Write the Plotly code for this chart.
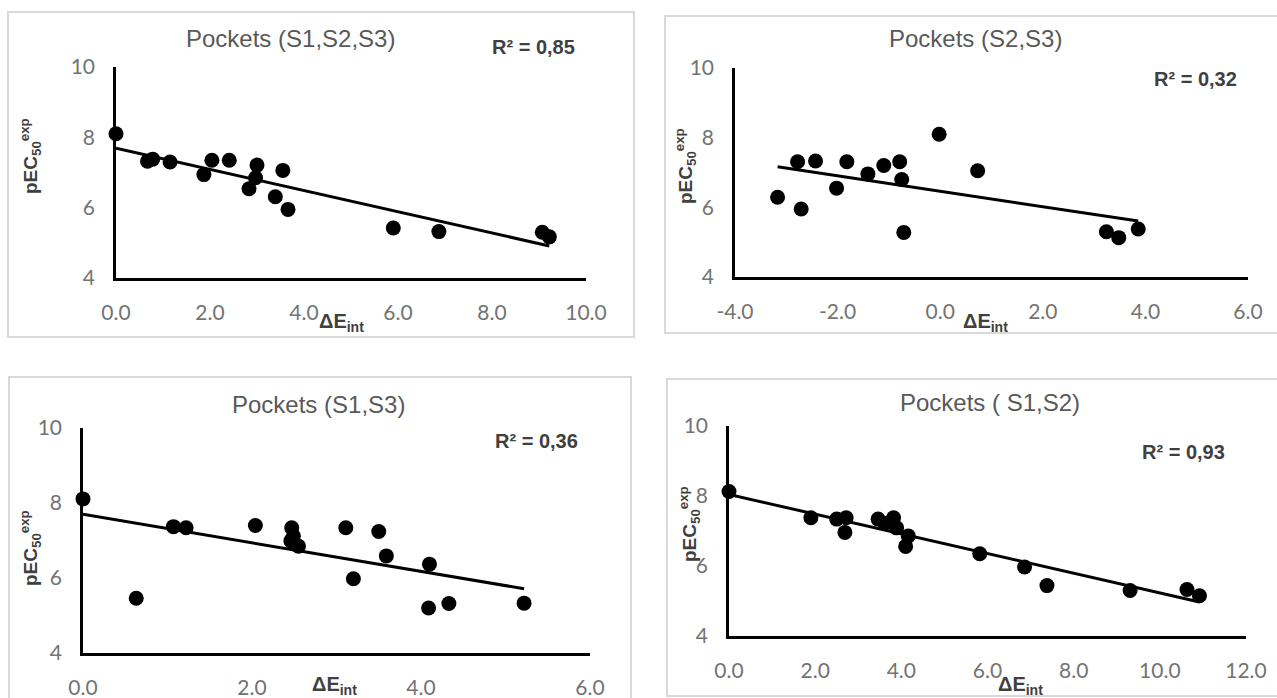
import numpy as np
import plotly.graph_objects as go

W, H = 1277, 698

# ---------------- data ----------------
titles = ["Pockets (S1,S2,S3)", "Pockets (S2,S3)", "Pockets (S1,S3)", "Pockets ( S1,S2)"]
r2_labels = ["R² = 0,85", "R² = 0,32", "R² = 0,36", "R² = 0,93"]
y_title = "pEC<sub>50</sub><sup>exp</sup>"
x_title = "ΔE<sub>int</sub>"

x_s123 = [0.00, 0.67, 0.78, 1.15, 1.87, 2.04, 2.41, 3.00, 2.97, 2.83, 3.55, 3.39, 3.66, 5.90, 6.87, 9.07, 9.22]
y_s123 = [8.10, 7.32, 7.38, 7.30, 6.94, 7.35, 7.35, 7.21, 6.85, 6.54, 7.06, 6.31, 5.95, 5.42, 5.32, 5.30, 5.17]

x_s23 = [-3.17, -2.78, -2.71, -2.43, -2.02, -1.82, -1.41, -1.10, -0.79, -0.75, -0.71, -0.02, 0.73, 3.24, 3.48, 3.86]
y_s23 = [6.29, 7.31, 5.95, 7.33, 6.55, 7.31, 6.96, 7.20, 7.31, 6.80, 5.28, 8.10, 7.05, 5.30, 5.13, 5.38]

x_s13 = [0.00, 0.63, 1.07, 1.22, 2.04, 2.47, 2.49, 2.46, 2.55, 3.11, 3.20, 3.50, 3.59, 4.10, 4.09, 4.33, 5.22]
y_s13 = [8.11, 5.46, 7.37, 7.34, 7.40, 7.34, 7.12, 6.99, 6.85, 7.34, 5.98, 7.24, 6.59, 6.37, 5.20, 5.32, 5.33]

x_s12 = [0.00, 1.90, 2.50, 2.72, 2.69, 3.46, 3.61, 3.82, 3.89, 4.16, 4.10, 5.82, 6.86, 7.38, 9.31, 10.63, 10.92]
y_s12 = [8.13, 7.38, 7.34, 7.38, 6.96, 7.34, 7.22, 7.38, 7.09, 6.86, 6.56, 6.35, 5.97, 5.44, 5.30, 5.33, 5.15]

x_tick_s123 = [0, 2, 4, 6, 8, 10]
x_tick_s23 = [-4, -2, 0, 2, 4, 6]
x_tick_s13 = [0, 2, 4, 6]
x_tick_s12 = [0, 2, 4, 6, 8, 10, 12]
y_ticks = [4, 6, 8, 10]

# ---------------- layout geometry (pixels) ----------------
def px(x):
    return x / W

def py(y):
    return 1 - y / H

panels = [
    dict(x=x_s123, y=y_s123, xt=x_tick_s123, dom_x=(116, 586), dom_y=(278, 67),
         title=(290, 38), r2=(533, 47), ytitle=(30, 156), xtitle=(341, 322),
         border=(8, 12, 634, 337)),
    dict(x=x_s23, y=y_s23, xt=x_tick_s23, dom_x=(735, 1248), dom_y=(277, 68),
         title=(975, 38), r2=(1195, 79), ytitle=(686, 166), xtitle=(985, 322),
         border=(665, 16, 1290, 333)),
    dict(x=x_s13, y=y_s13, xt=x_tick_s13, dom_x=(83, 590), dom_y=(653, 428),
         title=(318, 405), r2=(536, 441), ytitle=(30, 548), xtitle=(334, 685),
         border=(9, 377, 631, 710)),
    dict(x=x_s12, y=y_s12, xt=x_tick_s12, dom_x=(729, 1246), dom_y=(636, 426),
         title=(990, 402), r2=(1183, 452), ytitle=(689, 524), xtitle=(1020, 685),
         border=(667, 379, 1290, 696)),
]

SANS = "Liberation Sans, Arial, sans-serif"
TICKF = "Lato, Liberation Sans, sans-serif"
GRAY = "#595959"
TICKC = "#737373"
DARK = "#404040"

fig = go.Figure()
annotations = []
shapes = []

for i, p in enumerate(panels):
    k = "" if i == 0 else str(i + 1)
    xa, ya = "x" + k, "y" + k
    xs = np.array(p["x"])
    ys = np.array(p["y"])
    fig.add_trace(go.Scatter(x=xs, y=ys, mode="markers", xaxis=xa, yaxis=ya,
                             marker=dict(color="black", size=15), cliponaxis=False,
                             showlegend=False, hoverinfo="skip"))
    m, b = np.polyfit(xs, ys, 1)
    lx = np.array([xs.min(), xs.max()])
    fig.add_trace(go.Scatter(x=lx, y=m * lx + b, mode="lines", xaxis=xa, yaxis=ya,
                             line=dict(color="black", width=3), cliponaxis=False,
                             showlegend=False, hoverinfo="skip"))
    common = dict(showgrid=False, zeroline=False, showline=True, linecolor="black", linewidth=2.5,
                  ticks="outside", tickcolor="rgba(0,0,0,0)", automargin=False,
                  tickfont=dict(family=TICKF, size=21, color=TICKC), fixedrange=True)
    xr = [min(p["xt"]), max(p["xt"])]
    fig.layout["xaxis" + k] = dict(domain=[px(p["dom_x"][0]), px(p["dom_x"][1])],
                                   range=xr, tickvals=p["xt"],
                                   ticktext=[f"{v:.1f}" for v in p["xt"]],
                                   anchor=ya, ticklen=14, **common)
    fig.layout["yaxis" + k] = dict(domain=[py(p["dom_y"][0]), py(p["dom_y"][1])],
                                   range=[min(y_ticks), max(y_ticks)], tickvals=y_ticks,
                                   anchor=xa, ticklen=14, **common)
    annotations.append(dict(text=titles[i], x=px(p["title"][0]), y=py(p["title"][1]),
                            xref="paper", yref="paper", showarrow=False,
                            xanchor="center", yanchor="middle",
                            font=dict(family=SANS, size=24, color=GRAY)))
    annotations.append(dict(text="<b>" + r2_labels[i] + "</b>", x=px(p["r2"][0]), y=py(p["r2"][1]),
                            xref="paper", yref="paper", showarrow=False,
                            xanchor="center", yanchor="middle",
                            font=dict(family=SANS, size=20, color=DARK)))
    annotations.append(dict(text="<b>" + y_title + "</b>", x=px(p["ytitle"][0]),
                            y=py(p["ytitle"][1]), xref="paper", yref="paper", showarrow=False,
                            xanchor="center", yanchor="middle",
                            textangle=-90, font=dict(family=SANS, size=19, color=DARK)))
    annotations.append(dict(text="<b>" + x_title + "</b>", x=px(p["xtitle"][0]), y=py(p["xtitle"][1]),
                            xref="paper", yref="paper", showarrow=False,
                            xanchor="center", yanchor="middle",
                            font=dict(family=SANS, size=20, color=DARK)))
    bx0, by0, bx1, by1 = p["border"]
    shapes.append(dict(type="rect", xref="paper", yref="paper", x0=px(bx0), x1=px(bx1),
                       y0=py(by1), y1=py(by0), line=dict(color="#d9d9d9", width=2),
                       layer="below"))

fig.update_layout(width=W, height=H, autosize=False,
                  margin=dict(l=0, r=0, t=0, b=0, pad=0, autoexpand=False),
                  paper_bgcolor="white", plot_bgcolor="rgba(0,0,0,0)",
                  annotations=annotations, shapes=shapes, showlegend=False,
                  hovermode=False)

fig.write_html("out.html", config={"displayModeBar": False},
               post_script="document.body.style.margin='0';document.body.style.overflow='hidden';")
